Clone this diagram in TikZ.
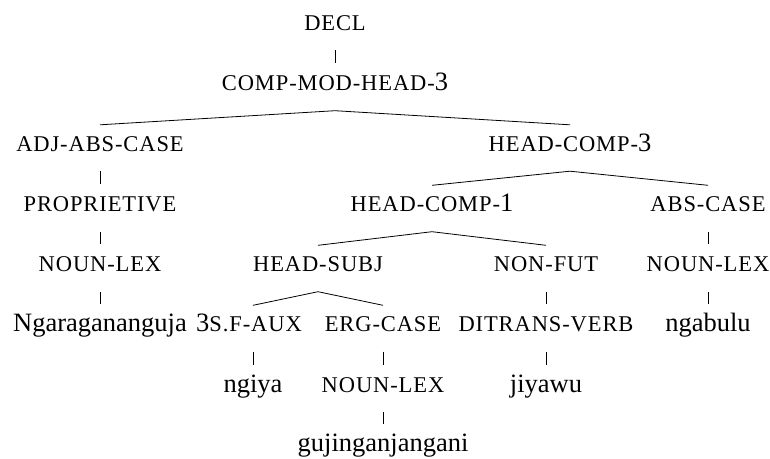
\documentclass[tikz,border=0pt]{standalone}
\usepackage{fontspec}
\setmainfont{Liberation Serif}
\newcommand{\SCx}[1]{{\fontsize{22.5pt}{22.5pt}\selectfont\addfontfeature{LetterSpace=4}#1}}
\begin{document}
\begin{tikzpicture}[x=1pt,y=-1pt,
  lab/.style={anchor=base,inner sep=0pt,text height=15pt,text depth=0pt,font=\fontsize{26.5pt}{28pt}\selectfont},
  edge/.style={line width=0.8pt,black}]
\useasboundingbox (0,0) rectangle (770,458);
% nodes
\node[lab] (decl) at (335,30) {\SCx{DECL}};
\node[lab] (cmh) at (335,90.5) {\SCx{COMP-MOD-HEAD-}3};
\node[lab] (aac) at (100,151) {\SCx{ADJ-ABS-CASE}};
\node[lab] (hc3) at (570,151) {\SCx{HEAD-COMP-}3};
\node[lab] (prop) at (100,211.5) {\SCx{PROPRIETIVE}};
\node[lab] (hc1) at (432,211.5) {\SCx{HEAD-COMP-}1};
\node[lab] (abs) at (708,211.5) {\SCx{ABS-CASE}};
\node[lab] (nl1) at (100,271.5) {\SCx{NOUN-LEX}};
\node[lab] (hs) at (318,271.5) {\SCx{HEAD-SUBJ}};
\node[lab] (nf) at (546,271.5) {\SCx{NON-FUT}};
\node[lab] (nl2) at (708,271.5) {\SCx{NOUN-LEX}};
\node[lab] (ngar) at (100,331.5) {Ngaragananguja};
\node[lab] (aux) at (249,331.5) {3\SCx{S.F-AUX}};
\node[lab] (erg) at (383,331.5) {\SCx{ERG-CASE}};
\node[lab] (dv) at (546,331.5) {\SCx{DITRANS-VERB}};
\node[lab] (ngab) at (708,331.5) {ngabulu};
\node[lab] (ngiya) at (253,392) {ngiya};
\node[lab] (nl3) at (383,392) {\SCx{NOUN-LEX}};
\node[lab] (jiy) at (546,392) {jiyawu};
\node[lab] (guj) at (383,451.5) {gujinganjangani};
% unary edges
\draw[edge] ([yshift=-20pt]decl.south) -- ([yshift=12pt]cmh.north);
\draw[edge] ([yshift=-20pt]aac.south) -- ([yshift=12pt]prop.north);
\draw[edge] ([yshift=-20pt]prop.south) -- ([yshift=12pt]nl1.north);
\draw[edge] ([yshift=-20pt]nl1.south) -- ([yshift=12pt]ngar.north);
\draw[edge] ([yshift=-20pt]abs.south) -- ([yshift=12pt]nl2.north);
\draw[edge] ([yshift=-20pt]nl2.south) -- ([yshift=12pt]ngab.north);
\draw[edge] ([yshift=-20pt]nf.south) -- ([yshift=12pt]dv.north);
\draw[edge] ([yshift=-20pt]dv.south) -- ([yshift=12pt]jiy.north);
\draw[edge] ([xshift=4pt,yshift=-20pt]aux.south) -- ([yshift=12pt]ngiya.north);
\draw[edge] ([yshift=-20pt]erg.south) -- ([yshift=12pt]nl3.north);
\draw[edge] ([yshift=-20pt]nl3.south) -- ([yshift=12pt]guj.north);
% branching edges
\draw[edge] ([yshift=11pt]aac.north) -- ([yshift=-20pt]cmh.south) -- ([yshift=11pt]hc3.north);
\draw[edge] ([yshift=11pt]hc1.north) -- ([yshift=-20pt]hc3.south) -- ([yshift=11pt]abs.north);
\draw[edge] ([yshift=11pt]hs.north) -- ([yshift=-20pt]hc1.south) -- ([yshift=11pt]nf.north);
\draw[edge] ([xshift=4pt,yshift=11pt]aux.north) -- ([yshift=-20pt]hs.south) -- ([yshift=11pt]erg.north);
\end{tikzpicture}
\end{document}
